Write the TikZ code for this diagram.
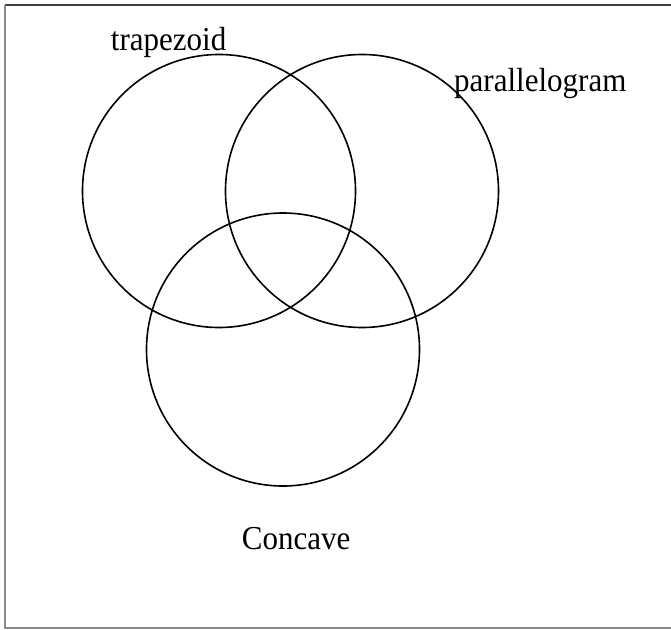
\documentclass[tikz,border=0pt]{standalone}
\usepackage{fontspec}
\usepackage{graphicx}
\setmainfont{Liberation Serif}
\newcommand{\tallText}[1]{\scalebox{1}[1.08]{#1}}
\begin{document}
\begin{tikzpicture}[x=1pt,y=-1pt,
  venn/.style={draw=black,line width=1.6pt,circle,inner sep=0pt,minimum size=273pt},
  lbl/.style={inner sep=0pt,anchor=base west,font=\fontsize{31}{31}\selectfont},
  frame/.style={line width=1.5pt}]
\useasboundingbox (0,0) rectangle (671,629);
\draw[frame,draw=black!75] (671,5) -- (5,5);
\draw[frame,draw=black!45] (5,5) -- (5,628) -- (671,628);
\node[venn] (trap) at (219,191) {};
\node[venn] (para) at (362,191) {};
\node[venn] (conc) at (283,349.5) {};
\node[lbl] (ltrap) at (110.7,50) {\tallText{trapezoid}};
\node[lbl] (lpara) at (454,91) {\tallText{parallelogram}};
\node[lbl] (lconc) at (241.7,549) {\tallText{Concave}};
\end{tikzpicture}
\end{document}
